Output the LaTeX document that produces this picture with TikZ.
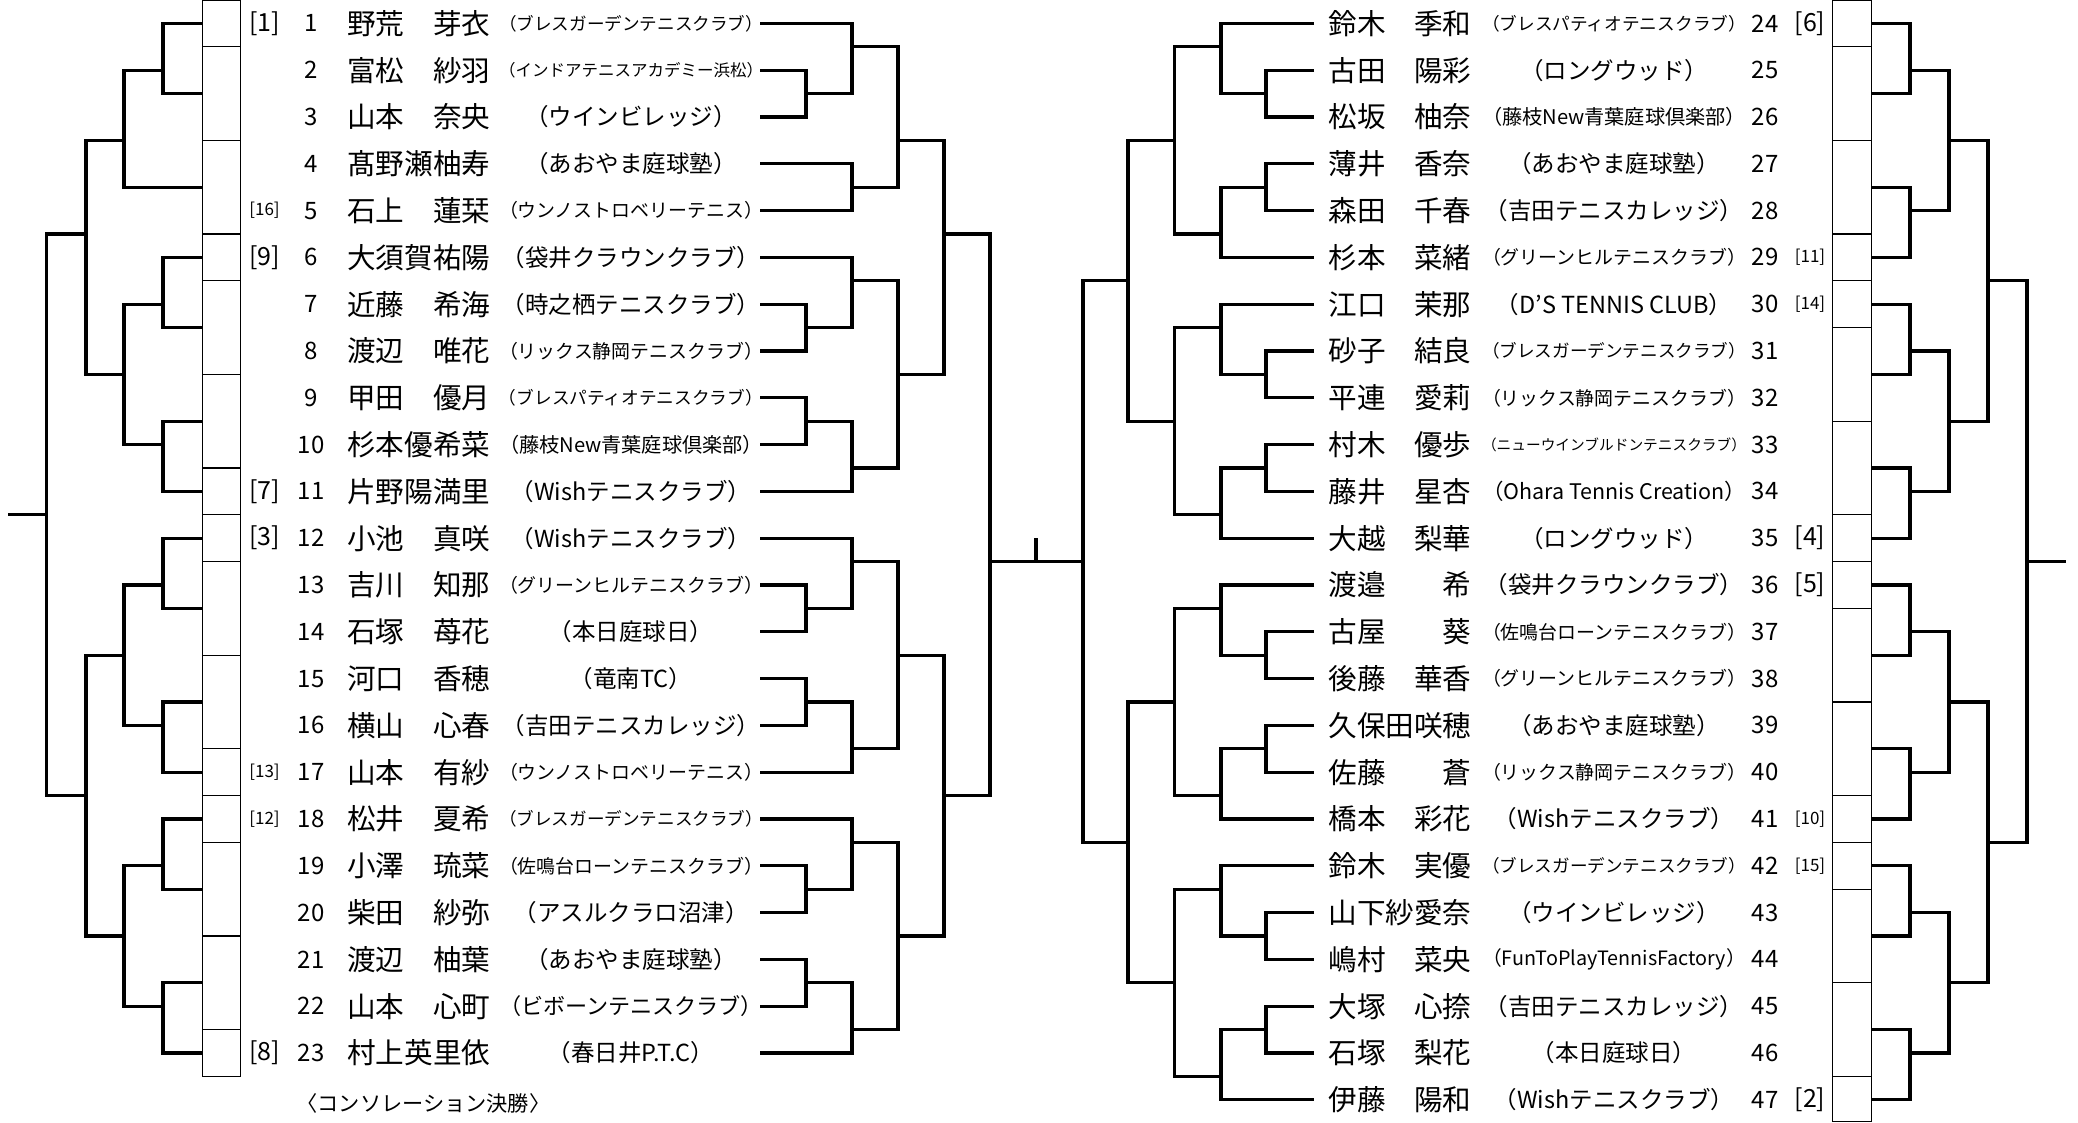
\documentclass[tikz,border=0pt]{standalone}
\usepackage{fontspec}
\usepackage{graphicx}
\setmainfont{Noto Sans CJK JP}
\newsavebox\clubbx
\newdimen\clubmax \clubmax=132pt
\newcommand\club[1]{\sbox\clubbx{#1}\ifdim\wd\clubbx>\clubmax\resizebox{\clubmax}{!}{\usebox\clubbx}\else\usebox\clubbx\fi}
\tikzset{
 br/.style={line width=1.65pt, line join=miter, line cap=butt},
 bx/.style={line width=0.6pt},
 nm/.style={anchor=west, inner sep=0pt, font=\fontsize{14.3}{16}\selectfont},
 cl/.style={anchor=center, inner sep=0pt, font=\fontsize{11.75}{14}\selectfont},
 no/.style={anchor=center, inner sep=0pt, font=\fontsize{12}{14}\selectfont},
 sd/.style={anchor=center, inner sep=0pt, font=\fontsize{12.5}{14}\selectfont},
 ssd/.style={anchor=center, inner sep=0pt, font=\fontsize{8.5}{10}\selectfont},
}
\begin{document}
\begin{tikzpicture}[x=0.5pt,y=-11.7pt]
\useasboundingbox (0,0) rectangle (2078,47.99);
\fill[white] (0,0) rectangle (2078,47.99);

% ---------- boxes ----------
\draw[bx] (202.5,0) rectangle (240.5,46);
\foreach \y in {2,6,10,12,16,20,22,24,28,32,34,36,40,44}
  \draw[bx] (202.5,\y) -- (240.5,\y);
\draw[bx] (1832.3,0) rectangle (1871.7,47.94);
\foreach \y in {2,6,10,12,14,18,22,24,26,30,34,36,38,42,46}
  \draw[bx] (1832.3,\y) -- (1871.7,\y);

% ---------- left half, left bracket ----------
\foreach \t/\b in {1/4,11/14,18/21,23/26,30/33,35/38,42/45}
  \draw[br] (202.5,\t) -- (163,\t) -- (163,\b) -- (202.5,\b);
\draw[br] (163,3) -- (124,3) -- (124,8) -- (202.5,8);
\draw[br] (163,13) -- (124,13) -- (124,19) -- (163,19);
\draw[br] (163,25) -- (124,25) -- (124,31) -- (163,31);
\draw[br] (163,37) -- (124,37) -- (124,43) -- (163,43);
\draw[br] (124,6) -- (86,6) -- (86,16) -- (124,16);
\draw[br] (124,28) -- (86,28) -- (86,40) -- (124,40);
\draw[br] (86,10) -- (46.7,10) -- (46.7,34) -- (86,34);
\draw[br] (46.7,22) -- (8.3,22);

% ---------- left half, right bracket ----------
\foreach \t/\b in {3/5,13/15,17/19,25/27,29/31,37/39,41/43}
  \draw[br] (760,\t) -- (806,\t) -- (806,\b) -- (760,\b);
\draw[br] (760,1) -- (852,1) -- (852,4) -- (806,4);
\draw[br] (760,7) -- (852,7) -- (852,9) -- (760,9);
\draw[br] (760,11) -- (852,11) -- (852,14) -- (806,14);
\draw[br] (806,18) -- (852,18) -- (852,21) -- (760,21);
\draw[br] (760,23) -- (852,23) -- (852,26) -- (806,26);
\draw[br] (806,30) -- (852,30) -- (852,33) -- (760,33);
\draw[br] (760,35) -- (852,35) -- (852,38) -- (806,38);
\draw[br] (806,42) -- (852,42) -- (852,45) -- (760,45);
\foreach \t/\b in {2/8,12/20,24/32,36/44}
  \draw[br] (852,\t) -- (898,\t) -- (898,\b) -- (852,\b);
\draw[br] (898,6) -- (944,6) -- (944,16) -- (898,16);
\draw[br] (898,28) -- (944,28) -- (944,40) -- (898,40);
\draw[br] (944,10) -- (990,10) -- (990,34) -- (944,34);
\draw[br] (990,24) -- (1083,24);
\draw[br] (1036,24) -- (1036,23);

% ---------- right half, left bracket ----------
\foreach \t/\b in {3/5,7/9,15/17,19/21,27/29,31/33,39/41,43/45}
  \draw[br] (1314,\t) -- (1266,\t) -- (1266,\b) -- (1314,\b);
\draw[br] (1314,1) -- (1221,1) -- (1221,4) -- (1266,4);
\draw[br] (1266,8) -- (1221,8) -- (1221,11) -- (1314,11);
\draw[br] (1314,13) -- (1221,13) -- (1221,16) -- (1266,16);
\draw[br] (1266,20) -- (1221,20) -- (1221,23) -- (1314,23);
\draw[br] (1314,25) -- (1221,25) -- (1221,28) -- (1266,28);
\draw[br] (1266,32) -- (1221,32) -- (1221,35) -- (1314,35);
\draw[br] (1314,37) -- (1221,37) -- (1221,40) -- (1266,40);
\draw[br] (1266,44) -- (1221,44) -- (1221,47) -- (1314,47);
\foreach \t/\b in {2/10,14/22,26/34,38/46}
  \draw[br] (1221,\t) -- (1174.6,\t) -- (1174.6,\b) -- (1221,\b);
\draw[br] (1174.6,6) -- (1128,6) -- (1128,18) -- (1174.6,18);
\draw[br] (1174.6,30) -- (1128,30) -- (1128,42) -- (1174.6,42);
\draw[br] (1128,12) -- (1083,12) -- (1083,36) -- (1128,36);

% ---------- right half, right bracket ----------
\foreach \t/\b in {1/4,8/11,13/16,20/23,25/28,32/35,37/40,44/47}
  \draw[br] (1871.7,\t) -- (1910,\t) -- (1910,\b) -- (1871.7,\b);
\foreach \t/\b in {3/9,15/21,27/33,39/45}
  \draw[br] (1910,\t) -- (1949,\t) -- (1949,\b) -- (1910,\b);
\draw[br] (1949,6) -- (1988,6) -- (1988,18) -- (1949,18);
\draw[br] (1949,30) -- (1988,30) -- (1988,42) -- (1949,42);
\draw[br] (1988,12) -- (2027,12) -- (2027,36) -- (1988,36);
\draw[br] (2027,24) -- (2066,24);

% ---------- left half texts ----------
\foreach \k/\nme/\cb in {
1/野荒　芽衣/ブレスガーデンテニスクラブ,
2/富松　紗羽/インドアテニスアカデミー浜松,
3/山本　奈央/ウインビレッジ,
4/髙野瀬柚寿/あおやま庭球塾,
5/石上　蓮栞/ウンノストロベリーテニス,
6/大須賀祐陽/袋井クラウンクラブ,
7/近藤　希海/時之栖テニスクラブ,
8/渡辺　唯花/リックス静岡テニスクラブ,
9/甲田　優月/ブレスパティオテニスクラブ,
10/杉本優希菜/藤枝New青葉庭球倶楽部,
11/片野陽満里/Wishテニスクラブ,
12/小池　真咲/Wishテニスクラブ,
13/吉川　知那/グリーンヒルテニスクラブ,
14/石塚　苺花/本日庭球日,
15/河口　香穂/竜南TC,
16/横山　心春/吉田テニスカレッジ,
17/山本　有紗/ウンノストロベリーテニス,
18/松井　夏希/ブレスガーデンテニスクラブ,
19/小澤　琉菜/佐鳴台ローンテニスクラブ,
20/柴田　紗弥/アスルクラロ沼津,
21/渡辺　柚葉/あおやま庭球塾,
22/山本　心町/ビボーンテニスクラブ,
23/村上英里依/春日井P.T.C}{
  \node[no] (numL\k) at (311,{2*\k-1}) {\k};
  \node[nm] (nameL\k) at (346.8,{2*\k-1}) {\nme};
  \node[cl] (clubL\k) at (631,{2*\k-1}) {\club{（\cb）}};
}
\foreach \k/\s in {1/1,6/9,11/7,12/3,23/8}
  \node[sd] (seedL\k) at (264.5,{2*\k-1}) {[\s]};
\foreach \k/\s in {5/16,17/13,18/12}
  \node[ssd] (seedL\k) at (264.5,{2*\k-1}) {[\s]};

% ---------- right half texts ----------
\foreach \k/\nme/\cb in {
24/鈴木　季和/ブレスパティオテニスクラブ,
25/古田　陽彩/ロングウッド,
26/松坂　柚奈/藤枝New青葉庭球倶楽部,
27/薄井　香奈/あおやま庭球塾,
28/森田　千春/吉田テニスカレッジ,
29/杉本　菜緒/グリーンヒルテニスクラブ,
30/江口　茉那/D’S TENNIS CLUB,
31/砂子　結良/ブレスガーデンテニスクラブ,
32/平連　愛莉/リックス静岡テニスクラブ,
33/村木　優歩/ニューウインブルドンテニスクラブ,
34/藤井　星杏/Ohara Tennis Creation,
35/大越　梨華/ロングウッド,
36/渡邉　　希/袋井クラウンクラブ,
37/古屋　　葵/佐鳴台ローンテニスクラブ,
38/後藤　華香/グリーンヒルテニスクラブ,
39/久保田咲穂/あおやま庭球塾,
40/佐藤　　蒼/リックス静岡テニスクラブ,
41/橋本　彩花/Wishテニスクラブ,
42/鈴木　実優/ブレスガーデンテニスクラブ,
43/山下紗愛奈/ウインビレッジ,
44/嶋村　菜央/FunToPlayTennisFactory,
45/大塚　心捺/吉田テニスカレッジ,
46/石塚　梨花/本日庭球日,
47/伊藤　陽和/Wishテニスクラブ}{
  \node[nm] (nameR\k) at (1328,{2*\k-47}) {\nme};
  \node[cl] (clubR\k) at (1614,{2*\k-47}) {\club{（\cb）}};
  \node[no] (numR\k) at (1765,{2*\k-47}) {\k};
}
\foreach \k/\s in {24/6,35/4,36/5,47/2}
  \node[sd] (seedR\k) at (1810,{2*\k-47}) {[\s]};
\foreach \k/\s in {29/11,30/14,41/10,42/15}
  \node[ssd] (seedR\k) at (1810,{2*\k-47}) {[\s]};

\node[anchor=west, inner sep=0pt, font=\fontsize{10.6}{12}\selectfont] (conso) at (296,47.14) {〈コンソレーション決勝〉};
\end{tikzpicture}
\end{document}
